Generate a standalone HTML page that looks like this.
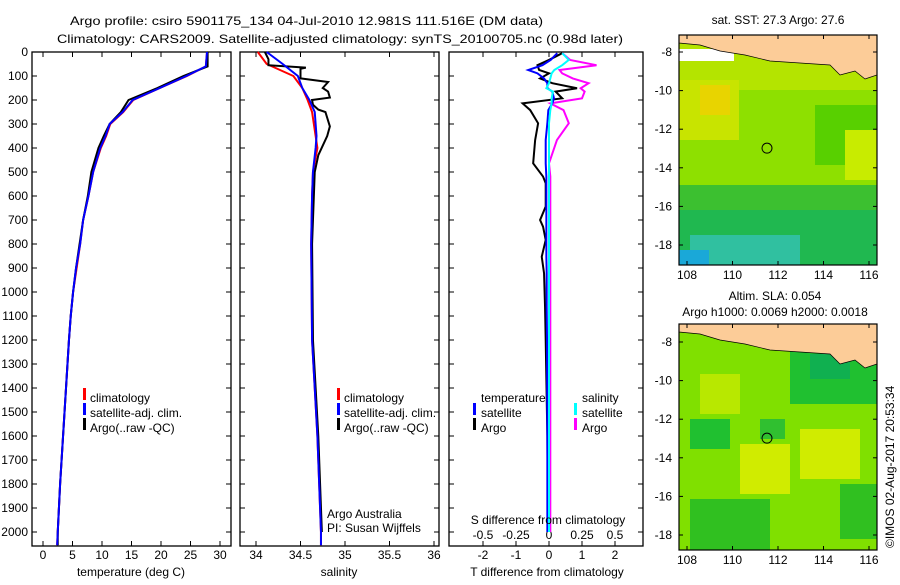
<!DOCTYPE html>
<html><head><meta charset="utf-8"><style>
body{margin:0;background:#fff;}
svg text{font-family:"Liberation Sans",sans-serif;font-size:12px;fill:#000;}
</style></head><body>
<svg id="c" width="900" height="580" xmlns="http://www.w3.org/2000/svg">
<text x="70" y="25" textLength="473" lengthAdjust="spacingAndGlyphs">Argo profile: csiro 5901175_134 04-Jul-2010 12.981S 111.516E (DM data)</text>
<text x="57" y="43" textLength="566" lengthAdjust="spacingAndGlyphs">Climatology: CARS2009. Satellite-adjusted climatology: synTS_20100705.nc (0.98d later)</text>
<g id="g"></g>
</svg>
<script>
// ---- data ----
const tDepth=[0,60,100,150,200,250,300,350,400,500,600,700,800,900,1000,1100,1200,1400,1600,1800,2000,2055];
const tClim=[27.8,27.6,24.4,19.8,15.3,13.6,11.4,10.7,9.8,8.5,7.7,6.8,6.3,5.7,5.1,4.7,4.4,3.9,3.4,2.9,2.5,2.4];
const tSat=[27.8,27.6,24.3,19.8,15.2,13.5,11.3,10.6,9.7,8.5,7.7,6.8,6.3,5.6,5.1,4.7,4.4,3.9,3.4,2.9,2.5,2.4];
const tArgo=[27.9,27.9,23.8,19.4,14.5,13.2,11.3,10.3,9.4,8.2,7.6,6.8,6.2,5.6,5.1,4.7,4.4,3.9,3.4,2.9,2.5,2.5];
const sDepth=[0,50,100,150,200,250,300,350,400,500,600,800,1200,1400,1600,1800,2000,2055];
const sClim=[34.02,34.12,34.42,34.52,34.58,34.63,34.65,34.67,34.69,34.64,34.63,34.62,34.63,34.66,34.69,34.71,34.73,34.73];
const sSat=[34.12,34.3,34.47,34.52,34.6,34.66,34.67,34.68,34.67,34.64,34.63,34.62,34.63,34.66,34.69,34.71,34.73,34.73];
const aDepth=[0,30,55,65,70,110,125,150,165,190,200,220,240,250,310,350,430,500,600,800,1200,1400,1600,1800,2000];
const sArgo=[34.1,34.14,34.14,34.56,34.5,34.5,34.81,34.75,34.81,34.83,34.63,34.64,34.7,34.78,34.83,34.8,34.7,34.66,34.65,34.63,34.64,34.67,34.7,34.72,34.74];
const dDepth=[5,33,55,75,89,110,130,151,165,193,214,242,297,367,464,519,547,644,700,728,783,853,922,1061,1200,1600,2000];
const dTArgo=[0.4,0,-0.35,-0.3,0,-0.27,0.1,0.85,0.2,0.4,-0.8,-0.57,-0.33,-0.42,-0.48,-0.18,-0.1,-0.1,-0.27,-0.18,-0.1,-0.22,-0.15,-0.12,-0.1,-0.05,-0.03];
const dTSat=[0.25,0.05,-0.2,-0.63,-0.35,-0.15,-0.05,-0.05,0.1,0.15,0.1,-0.02,-0.05,-0.1,-0.1,-0.08,-0.08,-0.08,-0.08,-0.08,-0.08,-0.08,-0.07,-0.07,-0.06,-0.05,-0.05];
const dSArgo=[0.1,0.16,0.36,0.08,0.1,0.18,0.3,0.24,0.27,0.25,0.01,0.11,0.15,0.06,0,0.01,0.01,0.01,0.01,0.01,0.01,0.01,0.01,0.01,0.01,0.01,0.01];
const dSSat=[0.1,0.15,0.1,0.04,0.02,0.01,0.0,-0.02,0.03,0.02,0.02,0.01,0,0,0,0,0,0,0,0,0,0,0,0,0,0,0];
const depthTicks=[0,100,200,300,400,500,600,700,800,900,1000,1100,1200,1300,1400,1500,1600,1700,1800,1900,2000];
const tTicks=[0,5,10,15,20,25,30];
const sTicks=[34,34.5,35,35.5,36];
const dtTicks=[-2,-1,0,1,2];
const dsTicks=[-0.5,-0.25,0,0.25,0.5];
const latTicks=[-8,-10,-12,-14,-16,-18];
const lonTicks=[108,110,112,114,116];

const NS='http://www.w3.org/2000/svg';
const G=document.getElementById('g');
function el(tag,attrs,parent){const e=document.createElementNS(NS,tag);for(const k in attrs)e.setAttribute(k,attrs[k]);(parent||G).appendChild(e);return e;}
const yD=d=>52+d*0.24;
const xT=t=>43+t*5.9;
const xS=s=>256+(s-34)*89;
const xDT=v=>549+v*33;
const xDS=v=>549+v*132;
const TOP=52,BOT=546;

function panel(x0,x1,name){
  const r=el('rect',{x:x0,y:TOP,width:x1-x0,height:BOT-TOP,fill:'none',stroke:'#000','stroke-width':1.3});
  
  
  depthTicks.forEach(d=>{
    el('line',{x1:x0,x2:x0+5,y1:yD(d),y2:yD(d),stroke:'#000'});
    el('line',{x1:x1-5,x2:x1,y1:yD(d),y2:yD(d),stroke:'#000'});
  });
}
function xticks(vals,fx,x0,labels,ly,name){
  vals.forEach(v=>{
    el('line',{x1:fx(v),x2:fx(v),y1:BOT,y2:BOT-5,stroke:'#000'});
    el('line',{x1:fx(v),x2:fx(v),y1:TOP,y2:TOP+5,stroke:'#000'});
    if(labels){const t=el('text',{x:fx(v),y:ly,'text-anchor':'middle'});t.textContent=String(v);
      
      }
  });
}
function line(xs,ds,fx,color,name,w){
  const p=el('polyline',{points:xs.map((v,i)=>fx(v)+','+yD(ds[i])).join(' '),fill:'none',stroke:color,'stroke-width':w||2});
  
  
}
function txt(x,y,s,name,anchor){const t=el('text',{x:x,y:y,'text-anchor':anchor||'start'});t.textContent=s;
  
  return t;}
function mark(x,y,c){el('rect',{x:x,y:y-10,width:3,height:12,fill:c});}

depthTicks.forEach(d=>{const t=el('text',{x:28,y:yD(d)+4,'text-anchor':'end'});t.textContent=d;
  
  });

panel(32,231,'temperature-panel');
xticks(tTicks,xT,32,true,559,'temperature-tick-label');
line(tClim,tDepth,xT,'#f00','temperature-climatology-line');
line(tArgo,tDepth,xT,'#000','temperature-argo-line');
line(tSat,tDepth,xT,'#00f','temperature-satellite-line');
txt(131,576,'temperature (deg C)','temperature-axis-title','middle');
mark(83,398,'#f00');txt(90,402,'climatology','legend-climatology');
mark(83,413,'#00f');txt(90,417,'satellite-adj. clim.','legend-satellite');
mark(83,428,'#000');txt(90,432,'Argo(..raw -QC)','legend-argo');

panel(240,439,'salinity-panel');
xticks(sTicks,xS,240,true,559,'salinity-tick-label');
line(sClim,sDepth,xS,'#f00','salinity-climatology-line');
line(sArgo,aDepth,xS,'#000','salinity-argo-line');
line(sSat,sDepth,xS,'#00f','salinity-satellite-line');
txt(339,576,'salinity','salinity-axis-title','middle');
mark(337,398,'#f00');txt(344,402,'climatology','legend-climatology-2');
mark(337,413,'#00f');txt(344,417,'satellite-adj. clim.','legend-satellite-2');
mark(337,428,'#000');txt(344,432,'Argo(..raw -QC)','legend-argo-2');
txt(327,518,'Argo Australia','argo-australia-label');
txt(327,532,'PI: Susan Wijffels','pi-label');

panel(449,643,'difference-panel');
xticks(dtTicks,xDT,449,true,559,'t-diff-tick-label');
dsTicks.forEach(v=>{const t=el('text',{x:xDS(v),y:539,'text-anchor':'middle'});t.textContent=String(v);
  
  });
line(dTArgo,dDepth,xDT,'#000','t-diff-argo-line');
line(dSArgo,dDepth,xDS,'#f0f','s-diff-argo-line');
line(dTSat,dDepth,xDT,'#00f','t-diff-satellite-line');
line(dSSat,dDepth,xDS,'#0ff','s-diff-satellite-line');
txt(547,576,'T difference from climatology','t-diff-axis-title','middle');
txt(548,524,'S difference from climatology','s-diff-axis-title','middle');
txt(481,402,'temperature','legend-temperature-heading');
txt(582,402,'salinity','legend-salinity-heading');
mark(473,413,'#00f');txt(481,417,'satellite','legend-t-satellite');
mark(473,428,'#000');txt(481,432,'Argo','legend-t-argo');
mark(574,413,'#0ff');txt(582,417,'satellite','legend-s-satellite');
mark(574,428,'#f0f');txt(582,432,'Argo','legend-s-argo');

function map(y0,y1,latY0,name,kind){
  const g=el('g',{});
  
  
  const ly=lat=>latY0+(-8-lat)*19.3;
  const lx=lon=>687+(lon-108)*22.75;
  if(kind==='sst'){
    el('rect',{x:679,y:y0,width:198,height:y1-y0,fill:'#8ee000'},g);
    el('rect',{x:679,y:y0,width:198,height:55,fill:'#b4e400'},g);
    el('rect',{x:679,y:y0+45,width:60,height:60,fill:'#c8e400'},g);
    el('rect',{x:700,y:y0+50,width:30,height:30,fill:'#e8d400'},g);
    el('rect',{x:815,y:y0+70,width:62,height:60,fill:'#58d000'},g);
    el('rect',{x:845,y:y0+95,width:32,height:50,fill:'#c8ec00'},g);
    el('rect',{x:679,y:y0+150,width:198,height:30,fill:'#3cc030'},g);
    el('rect',{x:679,y:y0+175,width:198,height:y1-y0-175,fill:'#20b850'},g);
    el('rect',{x:690,y:y0+200,width:110,height:30,fill:'#30c0a0'},g);
    el('rect',{x:679,y:y1-15,width:30,height:15,fill:'#1aa8d8'},g);
    el('rect',{x:825,y:y0,width:52,height:25,fill:'#f0a000'},g);
    el('rect',{x:840,y:y0+10,width:25,height:14,fill:'#e07000'},g);
    el('rect',{x:679,y:y0+14,width:55,height:12,fill:'#fff'},g);
  } else {
    el('rect',{x:679,y:y0,width:198,height:y1-y0,fill:'#80e000'},g);
    el('rect',{x:790,y:y0+25,width:87,height:55,fill:'#20c030'},g);
    el('rect',{x:810,y:y0+30,width:40,height:25,fill:'#10b050'},g);
    el('rect',{x:690,y:y0+95,width:40,height:30,fill:'#20c030'},g);
    el('rect',{x:760,y:y0+95,width:25,height:20,fill:'#30c030'},g);
    el('rect',{x:740,y:y0+120,width:50,height:50,fill:'#d0ec00'},g);
    el('rect',{x:800,y:y0+105,width:60,height:50,fill:'#d0ec00'},g);
    el('rect',{x:700,y:y0+50,width:40,height:40,fill:'#b8e800'},g);
    el('rect',{x:690,y:y0+175,width:80,height:y1-y0-175,fill:'#30c020'},g);
    el('rect',{x:840,y:y0+160,width:37,height:55,fill:'#30c020'},g);
  }
  el('polygon',{points:`679,${y0} 877,${y0} 877,${y0+40} 865,${y0+44} 855,${y0+36} 840,${y0+40} 830,${y0+30} 800,${y0+28} 770,${y0+26} 745,${y0+20} 720,${y0+16} 700,${y0+10} 679,${y0+8}`,fill:'#fccc98',stroke:'#000','stroke-width':0.7},g);
  el('rect',{x:679,y:y0,width:198,height:y1-y0,fill:'none',stroke:'#000','stroke-width':1.2},g);
  el('circle',{cx:lx(111.516),cy:ly(-12.981),r:5,fill:'none',stroke:'#000'},g);
  latTicks.forEach(l=>{el('line',{x1:679,x2:683,y1:ly(l),y2:ly(l),stroke:'#000'},g);el('line',{x1:873,x2:877,y1:ly(l),y2:ly(l),stroke:'#000'},g);
    const t=el('text',{x:672,y:ly(l)+4,'text-anchor':'end'},g);t.textContent=l;
    
    });
  lonTicks.forEach(l=>{el('line',{x1:lx(l),x2:lx(l),y1:y1,y2:y1-4,stroke:'#000'},g);el('line',{x1:lx(l),x2:lx(l),y1:y0,y2:y0+4,stroke:'#000'},g);
    const t=el('text',{x:lx(l),y:y1+14,'text-anchor':'middle'},g);t.textContent=l;
    
    });
}
map(35,265,52,'sst-map','sst');
map(324,550,342,'sla-map','sla');
txt(778,24,'sat. SST: 27.3 Argo: 27.6','sst-map-title','middle');
txt(775,300,'Altim. SLA: 0.054','sla-map-title','middle');
txt(775,316,'Argo h1000: 0.0069 h2000: 0.0018','argo-height-title','middle');
const c=txt(0,0,'\u00a9IMOS 02-Aug-2017 20:53:34','timestamp-credit','start');
c.setAttribute('transform','translate(894,548) rotate(-90)');
</script>
</body></html>
